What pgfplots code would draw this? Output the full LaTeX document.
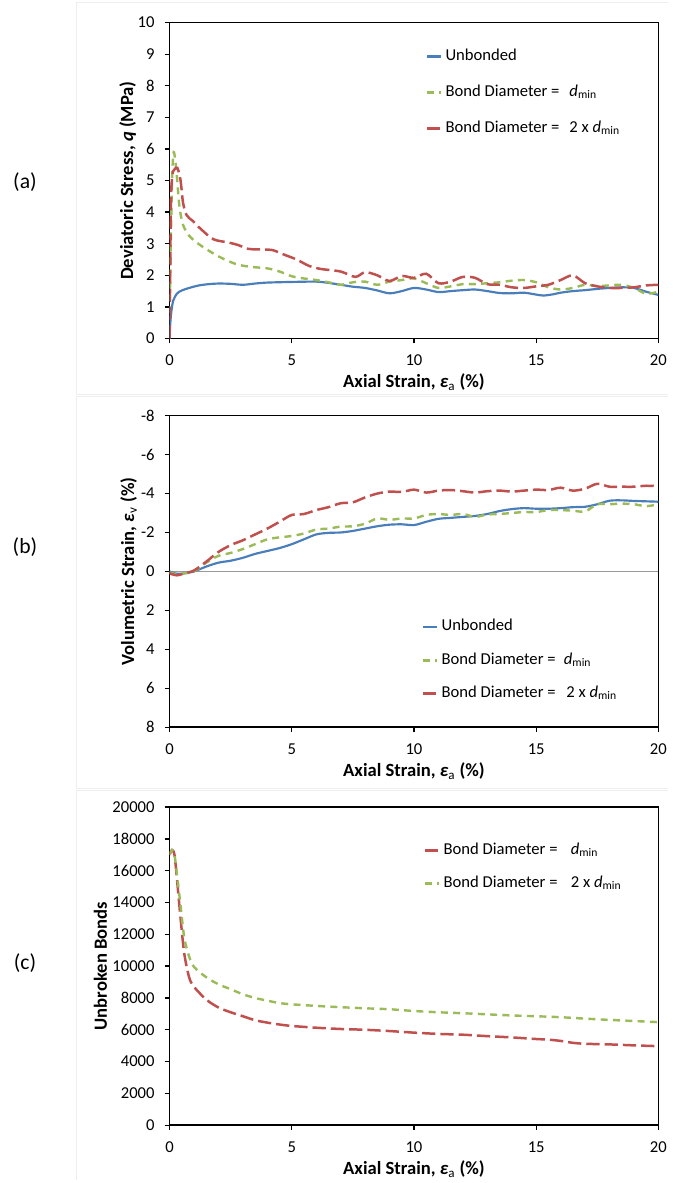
\documentclass[border=0pt]{standalone}
\usepackage{fontspec}
\setmainfont{Carlito}
\usepackage{pgfplots}
\pgfplotsset{compat=1.18}
\definecolor{cblue}{HTML}{4A7EBB}
\definecolor{cgreen}{HTML}{9BBB59}
\definecolor{cred}{HTML}{C0504D}
\definecolor{frame}{HTML}{EEEEEE}
\pgfplotsset{
  base/.style={
    scale only axis, width=294pt, anchor=south west,
    xmin=0, xmax=20, xtick={0,5,10,15,20}, xticklabels={0,5,10,15,20},
    tick align=outside, major tick length=3pt,
    tick style={black, line width=0.8pt},
    tick pos=left,
    axis line style={line width=0.9pt},
    /pgf/number format/assume math mode=true,
    scaled y ticks=false,
    every axis x label/.style={at={(axis description cs:0.5,0)}, anchor=center, yshift=-26.4pt,
      font=\fontsize{11.2}{13}\selectfont\bfseries},
    every axis y label/.style={rotate=90, anchor=center,
      font=\fontsize{11.2}{13}\selectfont\bfseries},
    ticklabel style={font=\fontsize{10}{12}\selectfont},
    xticklabel style={yshift=-3.5pt},
    yticklabel style={xshift=-2.5pt},
    xlabel={Axial Strain, {\itshape ε}\textsubscript{\mdseries\upshape a} (\%)},
    legend cell align=left,
    legend style={draw=none, fill=none, inner sep=0pt, outer sep=0pt, anchor=north west,
      font=\fontsize{10}{12}\selectfont, column sep=1pt,
      nodes={inner sep=1pt, text height=7pt, text depth=2.5pt}},
    legend image code/.code={\draw[##1] (0pt,0pt) -- (8.4pt,0pt);},
  },
  sblue/.style={cblue, line width=1.3pt, smooth},
  sgreen/.style={cgreen, line width=1.45pt, dash pattern=on 4.2pt off 3.2pt, smooth},
  sred/.style={cred, line width=1.5pt, dash pattern=on 8pt off 3pt, smooth},
}
\newcommand{\dmin}{\textit{d}\textsubscript{min}}
\begin{document}
\begin{tikzpicture}
\path (0,0) rectangle (402pt,709.8pt);
% faint chart-area frames
\draw[frame, line width=0.6pt] (402pt,708pt) -- (46.2pt,708pt) -- (46.2pt,472.8pt) -- (402pt,472.8pt);
\draw[frame, line width=0.6pt] (402pt,471.6pt) -- (46.2pt,471.6pt) -- (46.2pt,235.8pt) -- (402pt,235.8pt);
\draw[frame, line width=0.6pt] (402pt,234.6pt) -- (46.2pt,234.6pt) -- (46.2pt,0pt);
\node at (15pt,600pt) {\fontsize{13}{15}\selectfont (a)};
\node at (15pt,381pt) {\fontsize{13}{15}\selectfont (b)};
\node at (15pt,130.8pt) {\fontsize{13}{15}\selectfont (c)};

% ---------------- (a)
\begin{axis}[base, at={(102pt,506.2pt)}, height=190pt,
  ymin=0, ymax=10, ytick={0,1,2,3,4,5,6,7,8,9,10},
  yticklabels={0,1,2,3,4,5,6,7,8,9,10},
  ylabel={Deviatoric Stress, {\itshape q} (MPa)},
  ylabel style={at={(axis description cs:-0.0857,0.5)}},
  legend style={at={(axis description cs:0.524,0.923)}, row sep=10.1pt}]
\addplot[sblue] coordinates {(0,0) (0.03,0.5) (0.08,0.9) (0.15,1.2) (0.3,1.42) (0.5,1.52) (0.8,1.6) (1.2,1.68) (1.6,1.72) (2,1.74) (2.5,1.73) (3,1.7) (3.5,1.74) (4,1.77) (5,1.79) (6,1.8) (6.5,1.76) (7,1.7) (7.5,1.64) (8,1.6) (8.5,1.52) (9,1.43) (9.5,1.5) (10,1.6) (10.5,1.55) (11,1.47) (11.5,1.5) (12,1.53) (12.5,1.55) (13,1.5) (13.5,1.44) (14,1.43) (14.5,1.45) (15,1.39) (15.3,1.36) (15.7,1.4) (16,1.45) (16.5,1.5) (17,1.53) (17.5,1.57) (18,1.6) (18.5,1.62) (19,1.6) (19.5,1.48) (20,1.38)};
\addlegendentry{Unbonded}
\addplot[sgreen] coordinates {(0,0.8) (0.05,3.0) (0.1,5.0) (0.17,5.9) (0.28,5.3) (0.4,4.2) (0.55,3.6) (0.8,3.25) (1,3.1) (1.4,2.88) (2,2.6) (2.7,2.36) (3.3,2.27) (4,2.22) (4.5,2.12) (5,1.97) (5.5,1.9) (6,1.85) (6.5,1.78) (7,1.7) (7.5,1.78) (8,1.8) (8.5,1.7) (9,1.8) (9.5,1.85) (10,1.9) (10.5,1.75) (11,1.6) (11.5,1.65) (12,1.72) (12.5,1.72) (13,1.75) (13.5,1.78) (14,1.83) (14.5,1.85) (15,1.78) (15.5,1.62) (16,1.55) (16.5,1.6) (17,1.7) (17.5,1.66) (18,1.68) (18.5,1.7) (19,1.6) (19.5,1.42) (20,1.48)};
\addlegendentry{Bond Diameter =\hspace{0.6em}\dmin}
\addplot[sred] coordinates {(0,0) (0.03,2.5) (0.06,4.5) (0.12,5.2) (0.2,5.35) (0.32,5.4) (0.45,5.0) (0.55,4.3) (0.7,3.9) (0.95,3.72) (1.3,3.45) (1.8,3.14) (2.4,3.04) (2.8,2.96) (3.2,2.84) (3.6,2.82) (4.2,2.8) (4.7,2.65) (5.2,2.5) (5.7,2.3) (6.2,2.2) (7,2.12) (7.6,1.95) (8,2.1) (8.5,2.0) (9,1.82) (9.5,1.98) (10,1.92) (10.5,2.05) (11,1.75) (11.5,1.8) (12,1.95) (12.5,1.92) (13,1.72) (13.5,1.7) (14,1.62) (14.5,1.6) (15,1.65) (15.5,1.7) (16,1.85) (16.5,2.0) (17,1.75) (17.5,1.65) (18,1.6) (18.5,1.6) (19,1.62) (19.5,1.68) (20,1.7)};
\addlegendentry{Bond Diameter =\hspace{0.6em}2 x \dmin}
\end{axis}

% ---------------- (b)
\begin{axis}[base, at={(102pt,272.4pt)}, height=187.4pt,
  y dir=reverse, ymin=-8, ymax=8, ytick={-8,-6,-4,-2,0,2,4,6,8},
  yticklabels={-8,-6,-4,-2,0,2,4,6,8},
  ylabel={Volumetric Strain, {\itshape ε}\textsubscript{\mdseries\upshape v} (\%)},
  ylabel style={at={(axis description cs:-0.0837,0.5)}},
  legend style={at={(axis description cs:0.516,0.352)}, row sep=8.5pt}]
\addplot[black!40, line width=0.8pt, forget plot] coordinates {(0,0) (20,0)};
\addplot[sblue] coordinates {(0,0) (0.3,0.12) (0.6,0.1) (1,0.0) (1.5,-0.25) (2,-0.45) (2.5,-0.55) (3,-0.7) (3.5,-0.9) (4,-1.05) (4.5,-1.2) (5,-1.4) (5.5,-1.65) (6,-1.9) (6.5,-1.98) (7,-2.0) (7.5,-2.08) (8,-2.2) (8.5,-2.32) (9,-2.4) (9.5,-2.42) (10,-2.38) (10.5,-2.55) (11,-2.7) (11.5,-2.75) (12,-2.8) (12.5,-2.85) (13,-2.95) (13.5,-3.1) (14,-3.2) (14.5,-3.25) (15,-3.22) (15.5,-3.22) (16,-3.25) (16.5,-3.3) (17,-3.32) (17.5,-3.45) (18,-3.63) (18.5,-3.65) (19,-3.62) (19.5,-3.6) (20,-3.58)};
\addlegendentry{Unbonded}
\addplot[sgreen] coordinates {(0,0.05) (0.3,0.15) (0.6,0.1) (1,0.0) (1.5,-0.45) (2,-0.8) (2.5,-0.95) (3,-1.15) (3.5,-1.4) (4,-1.65) (4.5,-1.75) (5,-1.82) (5.5,-1.95) (6,-2.15) (6.5,-2.2) (7,-2.3) (7.5,-2.32) (8,-2.45) (8.5,-2.72) (9,-2.65) (9.5,-2.72) (10,-2.72) (10.5,-2.9) (11,-2.95) (11.5,-2.9) (12,-2.95) (12.5,-2.8) (13,-2.92) (13.5,-2.95) (14,-3.0) (14.5,-3.05) (15,-3.05) (15.5,-3.15) (16,-3.15) (16.5,-3.12) (17,-3.08) (17.5,-3.45) (18,-3.45) (18.5,-3.48) (19,-3.45) (19.5,-3.35) (20,-3.45)};
\addlegendentry{Bond Diameter =\hspace{0.5em}\dmin}
\addplot[sred] coordinates {(0,0.1) (0.3,0.2) (0.6,0.1) (1,-0.05) (1.5,-0.5) (2,-1.0) (2.5,-1.35) (3,-1.6) (3.5,-1.9) (4,-2.2) (4.5,-2.55) (5,-2.9) (5.5,-2.95) (6,-3.15) (6.5,-3.3) (7,-3.5) (7.5,-3.55) (8,-3.8) (8.5,-4.0) (9,-4.1) (9.5,-4.08) (10,-4.2) (10.5,-4.05) (11,-4.15) (11.5,-4.18) (12,-4.12) (12.5,-4.05) (13,-4.12) (13.5,-4.15) (14,-4.1) (14.5,-4.15) (15,-4.2) (15.5,-4.18) (16,-4.3) (16.5,-4.15) (17,-4.25) (17.5,-4.5) (18,-4.35) (18.5,-4.35) (19,-4.35) (19.5,-4.4) (20,-4.38)};
\addlegendentry{Bond Diameter =\hspace{0.65em}2 x \dmin}
\end{axis}

% ---------------- (c)
\begin{axis}[base, at={(102pt,33pt)}, height=191.4pt,
  ymin=0, ymax=20000, ytick={0,2000,4000,6000,8000,10000,12000,14000,16000,18000,20000},
  yticklabels={0,2000,4000,6000,8000,10000,12000,14000,16000,18000,20000},
  ylabel={Unbroken Bonds},
  ylabel style={at={(axis description cs:-0.1414,0.5)}},
  legend style={at={(axis description cs:0.520,0.893)}, row sep=8.3pt}]
\addplot[sred] coordinates {(0,17000) (0.1,17300) (0.2,17000) (0.3,15500) (0.45,13000) (0.6,10800) (0.8,9300) (1,8700) (1.5,7900) (2,7400) (2.5,7100) (3,6850) (3.5,6600) (4,6450) (4.5,6330) (5,6240) (6,6130) (7,6050) (8,6000) (9,5920) (10,5820) (11,5740) (12,5690) (13,5600) (14,5520) (15,5420) (15.5,5380) (16,5300) (16.5,5180) (17,5120) (18,5080) (19,5020) (20,4970)};
\addlegendentry{Bond Diameter =\hspace{0.8em}\dmin}
\addplot[sgreen] coordinates {(0,17000) (0.1,17300) (0.2,17000) (0.3,15800) (0.45,13800) (0.6,11800) (0.8,10600) (1,9950) (1.5,9300) (2,8860) (2.5,8550) (3,8230) (3.5,8000) (4,7830) (4.5,7680) (5,7600) (6,7500) (7,7420) (8,7350) (9,7290) (10,7180) (11,7100) (12,7040) (13,6970) (14,6900) (15,6850) (16,6790) (17,6700) (18,6620) (19,6550) (20,6480)};
\addlegendentry{Bond Diameter =\hspace{0.8em}2 x \dmin}
\end{axis}
\end{tikzpicture}
\end{document}
